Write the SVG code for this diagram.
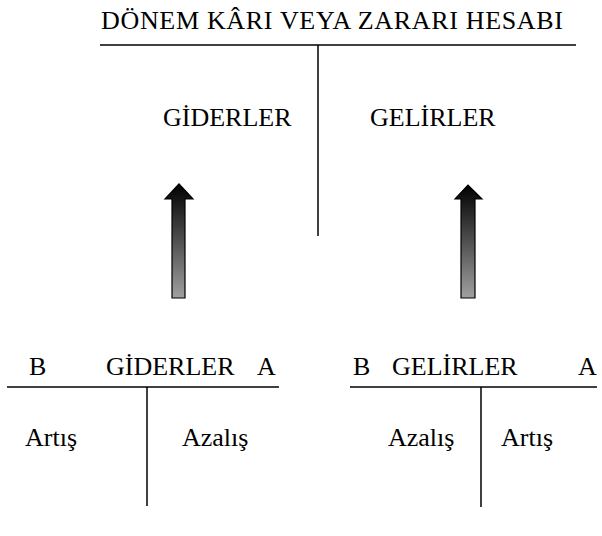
<svg xmlns="http://www.w3.org/2000/svg" width="602" height="536" viewBox="0 0 602 536">
<style>
text{font-family:"Liberation Serif","Times New Roman",serif;font-size:26px;fill:#000}
.ln{stroke:#000;stroke-width:1.5;fill:none}
.arr{fill:url(#g);stroke:#000;stroke-width:1.2;stroke-linejoin:miter}
</style>
<defs>
<linearGradient id="g" x1="0" y1="0" x2="0" y2="1">
<stop offset="0" stop-color="#000"/>
<stop offset="1" stop-color="#a0a0a0"/>
</linearGradient>
</defs>
<rect width="602" height="536" fill="#fff"/>
<g id="main-account">
<text x="101" y="29" textLength="462" lengthAdjust="spacing">DÖNEM KÂRI VEYA ZARARI HESABI</text>
<line class="ln" x1="100" y1="45" x2="576" y2="45"/>
<line class="ln" x1="318" y1="45" x2="318" y2="236"/>
<text x="163" y="126">GİDERLER</text>
<text x="370" y="126">GELİRLER</text>
</g>
<g id="connectors">
<path class="arr" d="M172,298 L172,199 L165,199 L179,184 L193,199 L185,199 L185,298 Z"/>
<path class="arr" d="M461,298 L461,199 L455,199 L468,185 L482,199 L475,199 L475,298 Z"/>
</g>
<g id="giderler-account">
<text x="29" y="375">B</text>
<text x="106" y="375">GİDERLER</text>
<text x="257" y="375">A</text>
<line class="ln" x1="7" y1="387" x2="279" y2="387"/>
<line class="ln" x1="147" y1="387" x2="147" y2="506"/>
<text x="25" y="446">Artış</text>
<text x="182" y="446">Azalış</text>
</g>
<g id="gelirler-account">
<text x="353" y="375">B</text>
<text x="392" y="375">GELİRLER</text>
<text x="578" y="375">A</text>
<line class="ln" x1="350" y1="387" x2="597" y2="387"/>
<line class="ln" x1="481" y1="387" x2="481" y2="507"/>
<text x="388" y="446">Azalış</text>
<text x="501" y="446">Artış</text>
</g>
</svg>
